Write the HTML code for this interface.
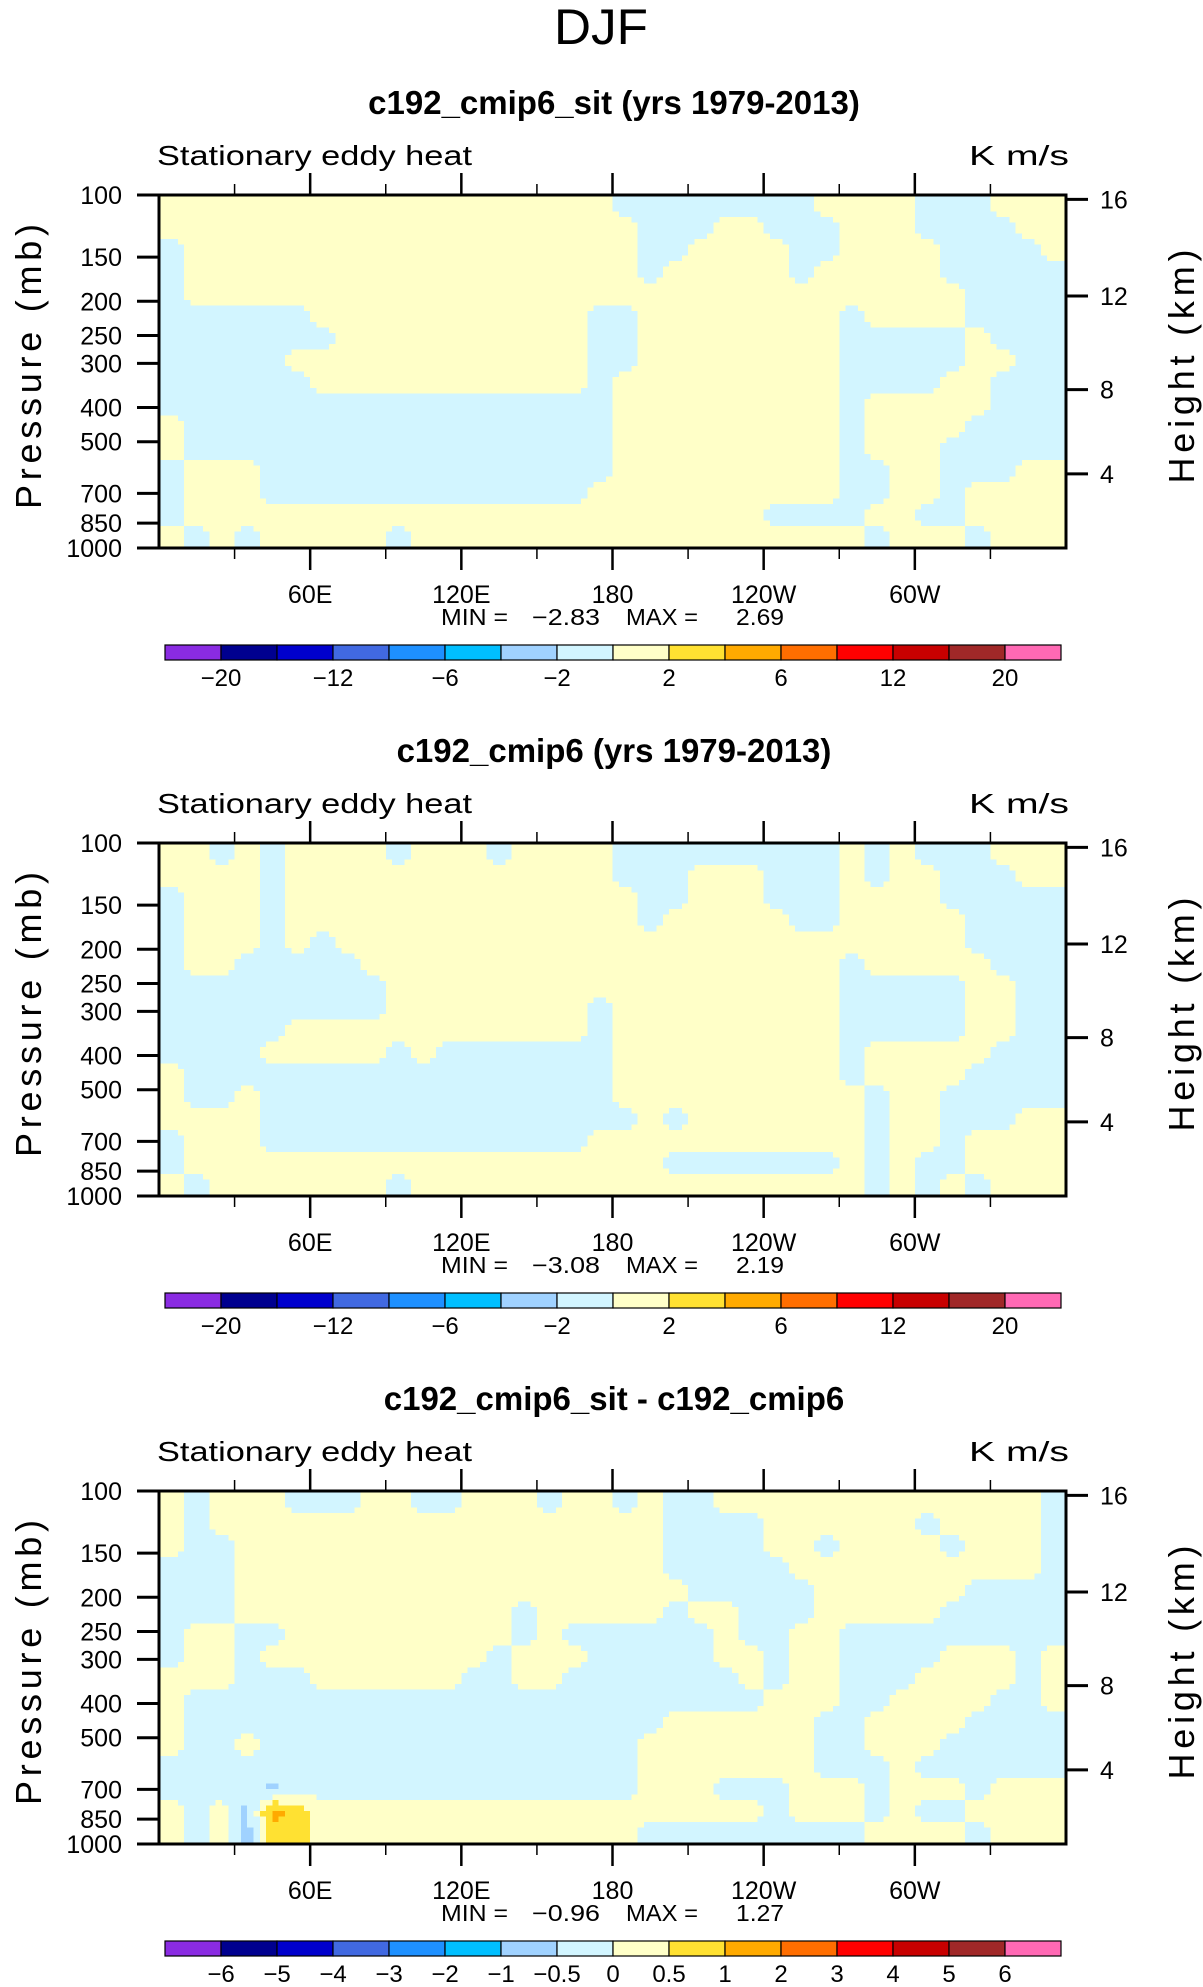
<!DOCTYPE html>
<html><head><meta charset="utf-8"><title>DJF Stationary eddy heat</title>
<style>
html,body{margin:0;padding:0;background:#fff;}
svg{display:block;}
text{font-family:"Liberation Sans",sans-serif;fill:#000;}
</style></head>
<body>
<svg id="fig" xmlns="http://www.w3.org/2000/svg" width="1203" height="1987" viewBox="0 0 1203 1987">
<text x="554" y="44" font-size="50" textLength="94" lengthAdjust="spacingAndGlyphs">DJF</text>
</svg>
<script>
// ---------- chart data ----------
const panelTitles = ["c192_cmip6_sit (yrs 1979-2013)", "c192_cmip6 (yrs 1979-2013)", "c192_cmip6_sit - c192_cmip6"];
const panelMin = ["\u22122.83", "\u22123.08", "\u22120.96"];
const panelMax = ["2.69", "2.19", "1.27"];
const lonTickDeg = [60, 120, 180, 240, 300];
const lonTickLabels = ["60E", "120E", "180", "120W", "60W"];
const lonMinorDeg = [30, 90, 150, 210, 270, 330];
const pressureTicks = [100, 150, 200, 250, 300, 400, 500, 700, 850, 1000];
const heightTicks = [4, 8, 12, 16];
const levelsAbs = [-20, -16, -12, -8, -6, -4, -2, 0, 2, 4, 6, 8, 12, 16, 20];
const levelsDiff = [-6, -5, -4, -3, -2, -1, -0.5, 0, 0.5, 1, 2, 3, 4, 5, 6];
const labelsAbs = ["", "\u221220", "", "\u221212", "", "\u22126", "", "\u22122", "", "2", "", "6", "", "12", "", "20", ""];
const labelsDiff = ["", "\u22126", "\u22125", "\u22124", "\u22123", "\u22122", "\u22121", "\u22120.5", "0", "0.5", "1", "2", "3", "4", "5", "6", ""];
const fillColors = ["#8a2be2", "#00008f", "#0000cd", "#4169e1", "#1e90ff", "#00bfff", "#a0d2ff", "#d2f5ff",
                    "#ffffc8", "#ffe132", "#ffaa00", "#ff6e00", "#ff0000", "#c80000", "#a02828", "#ff69b4"];
// field rows: 16 rows from 100 mb (top) to 1000 mb (bottom, log-p); 36 columns of 10 deg starting 0E
const field1 = [
[1,1,1,1,1,1,1,1,1,1,1,1,1,1,1,1,1,1,-1,-1,-1,-1,-1,-1,-1,-1,1,1,1,1,-1,-1,-1,1,1,1],
[1,1,1,1,1,1,1,1,1,1,1,1,1,1,1,1,1,1,1,-1,-1,-1,1,1,-1,-1,-1,1,1,1,-1,-1,-1,-1,1,1],
[-1,1,1,1,1,1,1,1,1,1,1,1,1,1,1,1,1,1,1,-1,-1,1,1,1,1,-1,-1,1,1,1,1,-1,-1,-1,-1,1],
[-1,1,1,1,1,1,1,1,1,1,1,1,1,1,1,1,1,1,1,-1,1,1,1,1,1,-1,1,1,1,1,1,-1,-1,-1,-1,-1],
[-1,1,1,1,1,1,1,1,1,1,1,1,1,1,1,1,1,1,1,1,1,1,1,1,1,1,1,1,1,1,1,1,-1,-1,-1,-1],
[-1,-1,-1,-1,-1,-1,1,1,1,1,1,1,1,1,1,1,1,-1,-1,1,1,1,1,1,1,1,1,-1,1,1,1,1,-1,-1,-1,-1],
[-1,-1,-1,-1,-1,-1,-1,1,1,1,1,1,1,1,1,1,1,-1,-1,1,1,1,1,1,1,1,1,-1,-1,-1,-1,-1,1,-1,-1,-1],
[-1,-1,-1,-1,-1,1,1,1,1,1,1,1,1,1,1,1,1,-1,-1,1,1,1,1,1,1,1,1,-1,-1,-1,-1,-1,1,1,-1,-1],
[-1,-1,-1,-1,-1,-1,1,1,1,1,1,1,1,1,1,1,1,-1,1,1,1,1,1,1,1,1,1,-1,-1,-1,-1,1,1,-1,-1,-1],
[-1,-1,-1,-1,-1,-1,-1,-1,-1,-1,-1,-1,-1,-1,-1,-1,-1,-1,1,1,1,1,1,1,1,1,1,-1,1,1,1,1,1,-1,-1,-1],
[1,-1,-1,-1,-1,-1,-1,-1,-1,-1,-1,-1,-1,-1,-1,-1,-1,-1,1,1,1,1,1,1,1,1,1,-1,1,1,1,1,-1,-1,-1,-1],
[1,-1,-1,-1,-1,-1,-1,-1,-1,-1,-1,-1,-1,-1,-1,-1,-1,-1,1,1,1,1,1,1,1,1,1,-1,1,1,1,-1,-1,-1,-1,-1],
[-1,1,1,1,-1,-1,-1,-1,-1,-1,-1,-1,-1,-1,-1,-1,-1,-1,1,1,1,1,1,1,1,1,1,-1,-1,1,1,-1,-1,-1,1,1],
[-1,1,1,1,-1,-1,-1,-1,-1,-1,-1,-1,-1,-1,-1,-1,-1,1,1,1,1,1,1,1,1,1,1,-1,-1,1,1,-1,1,1,1,1],
[-1,1,1,1,1,1,1,1,1,1,1,1,1,1,1,1,1,1,1,1,1,1,1,1,-1,-1,-1,-1,1,1,-1,-1,1,1,1,1],
[1,-1,1,-1,1,1,1,1,1,-1,1,1,1,1,1,1,1,1,1,1,1,1,1,1,1,1,1,1,-1,1,1,1,-1,1,1,1]
];
const field2 = [
[1,1,-1,1,-1,1,1,1,1,-1,1,1,1,-1,1,1,1,1,-1,-1,-1,-1,-1,-1,-1,-1,-1,1,-1,1,-1,-1,-1,1,1,1],
[1,1,1,1,-1,1,1,1,1,1,1,1,1,1,1,1,1,1,-1,-1,-1,1,1,1,-1,-1,-1,1,-1,1,1,-1,-1,-1,1,1],
[-1,1,1,1,-1,1,1,1,1,1,1,1,1,1,1,1,1,1,1,-1,-1,1,1,1,-1,-1,-1,1,1,1,1,-1,-1,-1,-1,-1],
[-1,1,1,1,-1,1,1,1,1,1,1,1,1,1,1,1,1,1,1,-1,1,1,1,1,1,-1,-1,1,1,1,1,1,-1,-1,-1,-1],
[-1,1,1,1,-1,1,-1,1,1,1,1,1,1,1,1,1,1,1,1,1,1,1,1,1,1,1,1,1,1,1,1,1,-1,-1,-1,-1],
[-1,1,1,-1,-1,-1,-1,-1,1,1,1,1,1,1,1,1,1,1,1,1,1,1,1,1,1,1,1,-1,1,1,1,1,1,-1,-1,-1],
[-1,-1,-1,-1,-1,-1,-1,-1,-1,1,1,1,1,1,1,1,1,1,1,1,1,1,1,1,1,1,1,-1,-1,-1,-1,-1,1,1,-1,-1],
[-1,-1,-1,-1,-1,-1,-1,-1,-1,1,1,1,1,1,1,1,1,-1,1,1,1,1,1,1,1,1,1,-1,-1,-1,-1,-1,1,1,-1,-1],
[-1,-1,-1,-1,-1,1,1,1,1,1,1,1,1,1,1,1,1,-1,1,1,1,1,1,1,1,1,1,-1,-1,-1,-1,-1,1,1,-1,-1],
[-1,-1,-1,-1,1,1,1,1,1,-1,1,-1,-1,-1,-1,-1,-1,-1,1,1,1,1,1,1,1,1,1,-1,1,1,1,1,1,-1,-1,-1],
[1,-1,-1,-1,-1,-1,-1,-1,-1,-1,-1,-1,-1,-1,-1,-1,-1,-1,1,1,1,1,1,1,1,1,1,-1,1,1,1,1,-1,-1,-1,-1],
[1,-1,-1,1,-1,-1,-1,-1,-1,-1,-1,-1,-1,-1,-1,-1,-1,-1,1,1,1,1,1,1,1,1,1,1,-1,1,1,-1,-1,-1,-1,-1],
[1,1,1,1,-1,-1,-1,-1,-1,-1,-1,-1,-1,-1,-1,-1,-1,-1,-1,1,-1,1,1,1,1,1,1,1,-1,1,1,-1,-1,-1,1,1],
[-1,1,1,1,-1,-1,-1,-1,-1,-1,-1,-1,-1,-1,-1,-1,-1,1,1,1,1,1,1,1,1,1,1,1,-1,1,1,-1,1,1,1,1],
[-1,1,1,1,1,1,1,1,1,1,1,1,1,1,1,1,1,1,1,1,-1,-1,-1,-1,-1,-1,-1,1,-1,1,-1,-1,1,1,1,1],
[1,-1,1,1,1,1,1,1,1,-1,1,1,1,1,1,1,1,1,1,1,1,1,1,1,1,1,1,1,-1,1,-1,1,-1,1,1,1]
];
const field3 = [
[0.25,-0.25,0.25,0.25,0.25,-0.25,-0.25,-0.25,0.25,0.25,-0.25,-0.25,0.25,0.25,0.25,-0.25,0.25,0.25,-0.25,0.25,-0.25,-0.25,0.25,0.25,0.25,0.25,0.25,0.25,0.25,0.25,0.25,0.25,0.25,0.25,0.25,-0.25],
[0.25,-0.25,0.25,0.25,0.25,0.25,0.25,0.25,0.25,0.25,0.25,0.25,0.25,0.25,0.25,0.25,0.25,0.25,0.25,0.25,-0.25,-0.25,-0.25,-0.25,0.25,0.25,0.25,0.25,0.25,0.25,-0.25,0.25,0.25,0.25,0.25,-0.25],
[0.25,-0.25,-0.25,0.25,0.25,0.25,0.25,0.25,0.25,0.25,0.25,0.25,0.25,0.25,0.25,0.25,0.25,0.25,0.25,0.25,-0.25,-0.25,-0.25,-0.25,0.25,0.25,-0.25,0.25,0.25,0.25,0.25,-0.25,0.25,0.25,0.25,-0.25],
[-0.25,-0.25,-0.25,0.25,0.25,0.25,0.25,0.25,0.25,0.25,0.25,0.25,0.25,0.25,0.25,0.25,0.25,0.25,0.25,0.25,-0.25,-0.25,-0.25,-0.25,-0.25,0.25,0.25,0.25,0.25,0.25,0.25,0.25,0.25,0.25,0.25,-0.25],
[-0.25,-0.25,-0.25,0.25,0.25,0.25,0.25,0.25,0.25,0.25,0.25,0.25,0.25,0.25,0.25,0.25,0.25,0.25,0.25,0.25,0.25,-0.25,-0.25,-0.25,-0.25,-0.25,0.25,0.25,0.25,0.25,0.25,0.25,-0.25,-0.25,-0.25,-0.25],
[-0.25,-0.25,-0.25,0.25,0.25,0.25,0.25,0.25,0.25,0.25,0.25,0.25,0.25,0.25,-0.25,0.25,0.25,0.25,0.25,0.25,-0.25,0.25,0.25,-0.25,-0.25,-0.25,0.25,0.25,0.25,0.25,0.25,-0.25,-0.25,-0.25,-0.25,-0.25],
[-0.25,0.25,0.25,-0.25,-0.25,0.25,0.25,0.25,0.25,0.25,0.25,0.25,0.25,0.25,-0.25,0.25,-0.25,-0.25,-0.25,-0.25,-0.25,-0.25,0.25,-0.25,-0.25,0.25,0.25,-0.25,-0.25,-0.25,-0.25,-0.25,-0.25,-0.25,-0.25,-0.25],
[-0.25,0.25,0.25,-0.25,0.25,0.25,0.25,0.25,0.25,0.25,0.25,0.25,0.25,-0.25,0.25,0.25,0.25,-0.25,-0.25,-0.25,-0.25,-0.25,0.25,0.25,-0.25,0.25,0.25,-0.25,-0.25,-0.25,-0.25,0.25,0.25,0.25,-0.25,0.25],
[0.25,0.25,0.25,-0.25,-0.25,-0.25,0.25,0.25,0.25,0.25,0.25,0.25,-0.25,-0.25,0.25,0.25,-0.25,-0.25,-0.25,-0.25,-0.25,-0.25,-0.25,0.25,-0.25,0.25,0.25,-0.25,-0.25,-0.25,0.25,0.25,0.25,0.25,-0.25,0.25],
[0.25,-0.25,-0.25,-0.25,-0.25,-0.25,-0.25,-0.25,-0.25,-0.25,-0.25,-0.25,-0.25,-0.25,-0.25,-0.25,-0.25,-0.25,-0.25,-0.25,-0.25,-0.25,-0.25,-0.25,0.25,0.25,0.25,-0.25,-0.25,0.25,0.25,0.25,0.25,-0.25,-0.25,0.25],
[0.25,-0.25,-0.25,-0.25,-0.25,-0.25,-0.25,-0.25,-0.25,-0.25,-0.25,-0.25,-0.25,-0.25,-0.25,-0.25,-0.25,-0.25,-0.25,-0.25,0.25,0.25,0.25,0.25,0.25,0.25,-0.25,-0.25,0.25,0.25,0.25,0.25,-0.25,-0.25,-0.25,-0.25],
[0.25,-0.25,-0.25,0.25,-0.25,-0.25,-0.25,-0.25,-0.25,-0.25,-0.25,-0.25,-0.25,-0.25,-0.25,-0.25,-0.25,-0.25,-0.25,0.25,0.25,0.25,0.25,0.25,0.25,0.25,-0.25,-0.25,0.25,0.25,0.25,-0.25,-0.25,-0.25,-0.25,-0.25],
[-0.25,-0.25,-0.25,-0.25,-0.25,-0.25,-0.25,-0.25,-0.25,-0.25,-0.25,-0.25,-0.25,-0.25,-0.25,-0.25,-0.25,-0.25,-0.25,0.25,0.25,0.25,0.25,0.25,0.25,0.25,-0.25,-0.25,-0.25,0.25,-0.25,-0.25,-0.25,-0.25,-0.25,-0.25],
[-0.25,-0.25,-0.25,-0.25,-0.7,-0.25,-0.25,-0.25,-0.25,-0.25,-0.25,-0.25,-0.25,-0.25,-0.25,-0.25,-0.25,-0.25,-0.25,0.25,0.25,0.25,-0.25,-0.25,-0.25,0.25,0.25,0.25,-0.25,0.25,0.25,0.25,-0.25,0.25,0.25,0.25],
[0.25,-0.25,0.25,-0.7,1.3,0.75,0.25,0.25,0.25,0.25,0.25,0.25,0.25,0.25,0.25,0.25,0.25,0.25,0.25,0.25,0.25,0.25,0.25,0.25,-0.25,0.25,0.25,0.25,-0.25,0.25,-0.25,-0.25,0.25,0.25,0.25,0.25],
[0.25,-0.25,0.25,-0.7,0.75,0.75,0.25,0.25,0.25,0.25,0.25,0.25,0.25,0.25,0.25,0.25,0.25,0.25,0.25,-0.25,-0.25,-0.25,-0.25,-0.25,-0.25,-0.25,-0.25,-0.25,0.25,0.25,0.25,0.25,-0.25,0.25,0.25,0.25]
];

// ---------- layout ----------
const NS = "http://www.w3.org/2000/svg";
const svg = document.getElementById("fig");
const X0 = 159, X1 = 1066, PH = 353, PANEL_DY = 648, PLOT_TOP = 195;
function mk(tag, attrs, parent) {
  const e = document.createElementNS(NS, tag);
  for (const k in attrs) e.setAttribute(k, attrs[k]);
  (parent || svg).appendChild(e);
  return e;
}
function lonToX(d) { return X0 + (X1 - X0) * d / 360; }
function pToY(p, top) { return top + PH * (Math.log10(p) - 2); }
function zToP(zkm) {
  const z = zkm * 1000;
  if (z <= 11000) return 1013.25 * Math.pow(1 - 2.25577e-5 * z, 5.25588);
  return 226.32 * Math.exp(-(z - 11000) / 6341.6);
}
function colorIndex(v, levels) { let i = 0; while (i < levels.length && v >= levels[i]) i++; return i; }
function sample(field, fx, fy) {
  const nr = field.length, nc = field[0].length;
  fx = Math.max(0, Math.min(nc - 1, fx)); fy = Math.max(0, Math.min(nr - 1, fy));
  const i0 = Math.floor(fx), j0 = Math.floor(fy);
  const i1 = Math.min(nc - 1, i0 + 1), j1 = Math.min(nr - 1, j0 + 1);
  const tx = fx - i0, ty = fy - j0;
  const a = field[j0][i0] * (1 - tx) + field[j0][i1] * tx;
  const b = field[j1][i0] * (1 - tx) + field[j1][i1] * tx;
  return a * (1 - ty) + b * ty;
}

const fields = [field1, field2, field3];
const levelSets = [levelsAbs, levelsAbs, levelsDiff];
const labelSets = [labelsAbs, labelsAbs, labelsDiff];

for (let k = 0; k < 3; k++) {
  const off = k * PANEL_DY;
  const top = PLOT_TOP + off, bot = top + PH;
  const g = mk("g", {});
  
  

  const t = mk("text", {x: 614, y: 114 + off, "font-size": 33, "font-weight": "bold", "text-anchor": "middle"}, g);
  
  
  t.textContent = panelTitles[k];
  const st = mk("text", {x: 157, y: 165 + off, "font-size": 28, textLength: 315, lengthAdjust: "spacingAndGlyphs"}, g);
  
  
  st.textContent = "Stationary eddy heat";
  const un = mk("text", {x: 969, y: 165 + off, "font-size": 28, textLength: 100, lengthAdjust: "spacingAndGlyphs"}, g);
  
  
  un.textContent = "K m/s";

  // contour field (heatmap with bilinear sub-sampling)
  const field = fields[k], levels = levelSets[k];
  const nr = field.length, nc = field[0].length;
  const SUB = 4;
  const cw = (X1 - X0) / nc, ch = PH / nr;
  const fg = mk("g", {"shape-rendering": "crispEdges"}, g);
  
  
  const nx = nc * SUB, ny = nr * SUB, sw = cw / SUB, sh = ch / SUB;
  for (let j = 0; j < ny; j++) {
    const fy = (j + 0.5) / SUB - 0.5;
    let runStart = 0, runCol = -1;
    for (let i = 0; i <= nx; i++) {
      let ci = -2;
      if (i < nx) { const fx = (i + 0.5) / SUB - 0.5; ci = colorIndex(sample(field, fx, fy), levels); }
      if (ci !== runCol) {
        if (runCol >= 0) {
          const r = mk("rect", {x: (X0 + runStart * sw).toFixed(2), y: (top + j * sh).toFixed(2), width: ((i - runStart) * sw + 0.6).toFixed(2), height: (sh + 0.6).toFixed(2), fill: fillColors[runCol]}, fg);
          
          
        }
        runStart = i; runCol = ci;
      }
    }
  }

  // frame
  const fr = mk("rect", {x: X0, y: top, width: X1 - X0, height: PH, fill: "none", stroke: "#000", "stroke-width": 3}, g);
  
  

  // x ticks
  lonTickDeg.forEach((d, i) => {
    const x = lonToX(d);
    const a = mk("line", {x1: x, x2: x, y1: top - 22, y2: top, stroke: "#000", "stroke-width": 2.5}, g);
    
    
    const b = mk("line", {x1: x, x2: x, y1: bot, y2: bot + 22, stroke: "#000", "stroke-width": 2.5}, g);
    
    
    const l = mk("text", {x: x, y: bot + 55, "font-size": 25, "text-anchor": "middle"}, g);
    
    
    l.textContent = lonTickLabels[i];
  });
  lonMinorDeg.forEach(d => {
    const x = lonToX(d);
    const a = mk("line", {x1: x, x2: x, y1: top - 11, y2: top, stroke: "#000", "stroke-width": 1.5}, g);
    
    
    const b = mk("line", {x1: x, x2: x, y1: bot, y2: bot + 11, stroke: "#000", "stroke-width": 1.5}, g);
    
    
  });

  // pressure ticks
  pressureTicks.forEach(p => {
    const y = pToY(p, top);
    const a = mk("line", {x1: 137, x2: X0, y1: y, y2: y, stroke: "#000", "stroke-width": 3}, g);
    
    
    const l = mk("text", {x: 122, y: y + 9, "font-size": 25, "text-anchor": "end"}, g);
    
    
    l.textContent = String(p);
  });
  // height ticks
  heightTicks.forEach(z => {
    const y = pToY(zToP(z), top);
    const a = mk("line", {x1: X1, x2: 1088, y1: y, y2: y, stroke: "#000", "stroke-width": 3}, g);
    
    
    const l = mk("text", {x: 1100, y: y + 9, "font-size": 25}, g);
    
    
    l.textContent = String(z);
  });

  // axis titles
  const cy = top + PH / 2 - 5;
  const yt = mk("text", {x: 0, y: 0, "font-size": 36, "text-anchor": "middle", textLength: 285, lengthAdjust: "spacing", transform: "translate(41," + cy + ") rotate(-90)"}, g);
  
  
  yt.textContent = "Pressure (mb)";
  const yr = mk("text", {x: 0, y: 0, "font-size": 36, "text-anchor": "middle", textLength: 234, lengthAdjust: "spacing", transform: "translate(1194," + cy + ") rotate(-90)"}, g);
  
  
  yr.textContent = "Height (km)";

  // min / max
  const mmY = 625 + off;
  const mmParts = [["MIN =", 441, 67], [panelMin[k], 532, 68], ["MAX =", 626, 72], [panelMax[k], 736, 48]];
  mmParts.forEach(pt => {
    const e = mk("text", {x: pt[1], y: mmY, "font-size": 23, textLength: pt[2], lengthAdjust: "spacingAndGlyphs"}, g);
    
    
    e.textContent = pt[0];
  });

  // colorbar
  const cbX = 165, cbW = 56, cbY = 645 + off, cbH = 15;
  fillColors.forEach((c, i) => {
    const r = mk("rect", {x: cbX + i * cbW, y: cbY, width: cbW, height: cbH, fill: c, stroke: "#000", "stroke-width": 1.2}, g);
    
    
  });
  labelSets[k].forEach((lab, i) => {
    if (!lab) return;
    const l = mk("text", {x: cbX + i * cbW, y: 686 + off, "font-size": 24, "text-anchor": "middle"}, g);
    
    
    l.textContent = lab;
  });
}
</script>
</body></html>
